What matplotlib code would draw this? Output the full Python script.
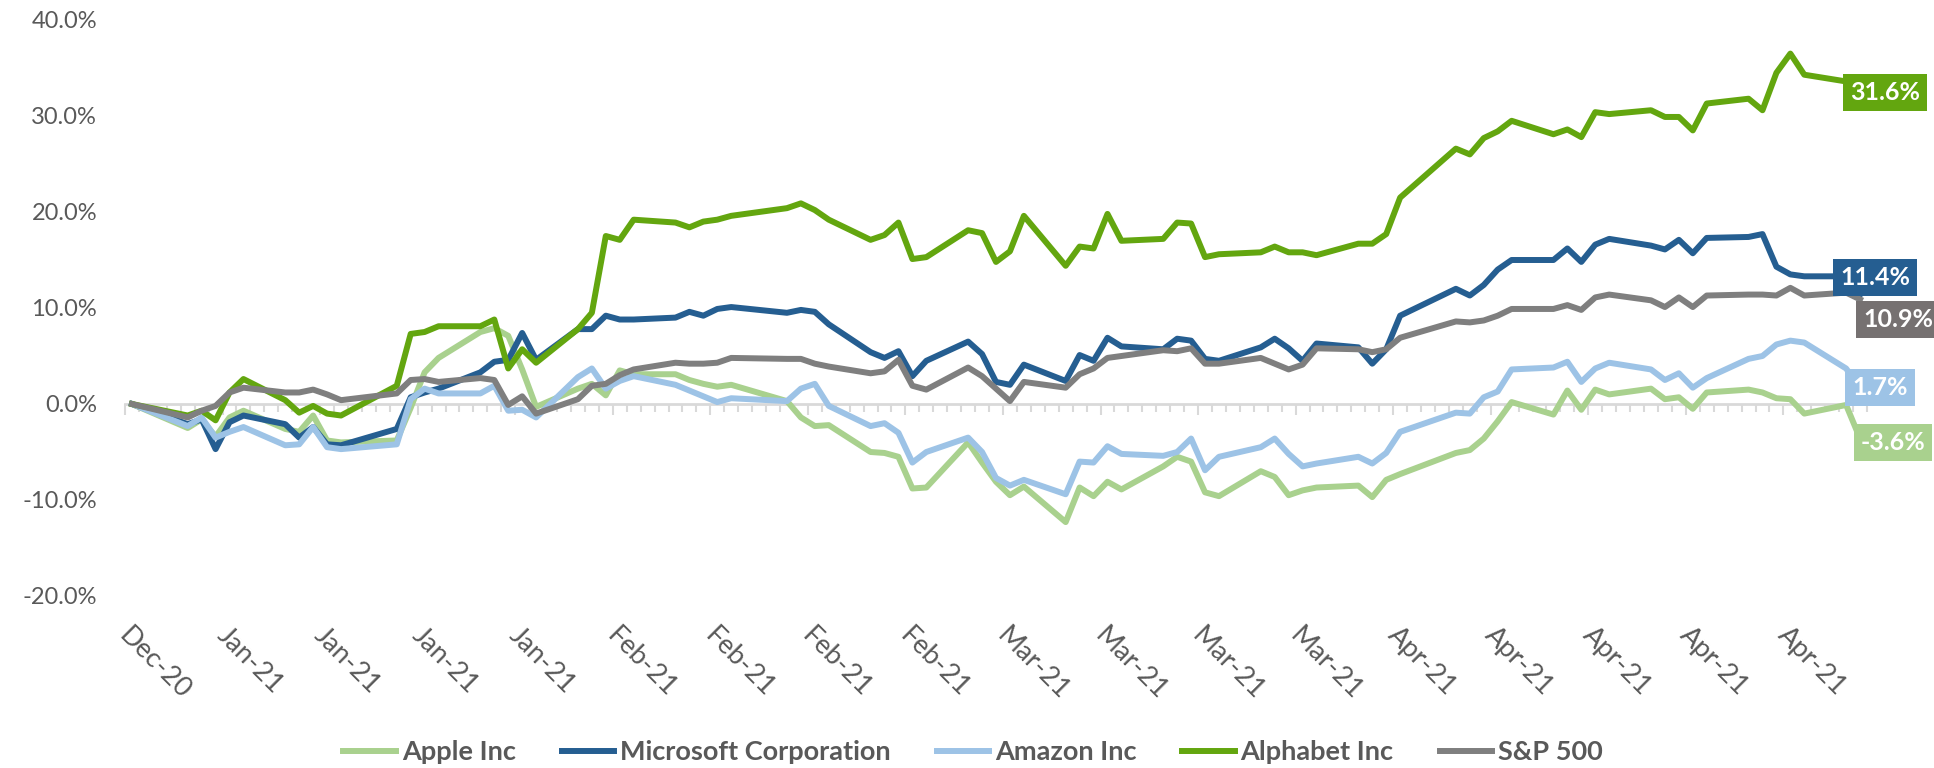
import numpy as np
import pandas as pd
import matplotlib
matplotlib.use('Agg')
import matplotlib.pyplot as plt

plt.rcParams['font.family'] = ['Lato', 'DejaVu Sans']

# trading days, Dec 31 2020 -> May 4 2021 (US market holidays removed)
holidays = ['2021-01-01', '2021-01-18', '2021-02-15', '2021-04-02']
dates = pd.bdate_range('2020-12-31', '2021-05-04').drop(pd.to_datetime(holidays))

# cumulative return since Dec 31, in %  (one row per week)
apple = [0.0,
         -2.5, -1.6, -3.4, -1.4, -0.7,
         -2.6, -2.9, -1.2, -3.8, -4.0,
         -3.8, -0.4, 3.3, 4.8,
         7.5, 7.9, 7.1, 3.6, -0.3,
         1.6, 2.1, 0.9, 3.5, 3.1,
         3.1, 2.5, 2.1, 1.8, 2.0,
         0.3, -1.4, -2.3, -2.2,
         -5.0, -5.1, -5.5, -8.8, -8.7,
         -4.0, -6.1, -8.1, -9.5, -8.6,
         -12.3, -8.7, -9.6, -8.1, -8.9,
         -6.5, -5.5, -6.0, -9.2, -9.6,
         -7.0, -7.6, -9.5, -9.0, -8.7,
         -8.5, -9.7, -7.9, -7.3,
         -5.1, -4.8, -3.6, -1.8, 0.2,
         -1.1, 1.4, -0.6, 1.5, 1.0,
         1.6, 0.5, 0.7, -0.5, 1.2,
         1.5, 1.2, 0.6, 0.5, -1.0,
         -0.1, -3.6]

microsoft = [0.0,
             -2.1, -1.6, -4.7, -1.9, -1.2,
             -2.1, -3.5, -2.4, -4.2, -4.3,
             -2.6, 0.7, 1.2, 1.6,
             3.3, 4.4, 4.6, 7.4, 4.6,
             7.8, 7.8, 9.2, 8.8, 8.8,
             9.0, 9.6, 9.2, 9.9, 10.1,
             9.5, 9.8, 9.6, 8.3,
             5.4, 4.8, 5.5, 2.9, 4.5,
             6.5, 5.2, 2.3, 2.0, 4.1,
             2.4, 5.1, 4.5, 6.9, 6.0,
             5.7, 6.8, 6.6, 4.7, 4.5,
             5.9, 6.8, 5.8, 4.5, 6.3,
             5.9, 4.2, 5.7, 9.2,
             12.0, 11.3, 12.4, 14.0, 15.0,
             15.0, 16.2, 14.8, 16.6, 17.2,
             16.5, 16.1, 17.1, 15.7, 17.3,
             17.4, 17.7, 14.3, 13.5, 13.3,
             13.3, 11.4]

amazon = [0.0,
          -2.3, -1.4, -3.5, -2.9, -2.4,
          -4.3, -4.2, -2.4, -4.5, -4.7,
          -4.2, 0.5, 1.6, 1.1,
          1.1, 1.9, -0.7, -0.6, -1.4,
          2.8, 3.7, 1.6, 2.4, 2.9,
          2.0, 1.4, 0.8, 0.2, 0.6,
          0.3, 1.6, 2.1, -0.2,
          -2.3, -2.0, -3.0, -6.1, -5.0,
          -3.5, -5.0, -7.7, -8.5, -7.9,
          -9.4, -6.0, -6.1, -4.4, -5.2,
          -5.4, -5.0, -3.6, -6.9, -5.5,
          -4.5, -3.6, -5.2, -6.5, -6.2,
          -5.5, -6.2, -5.1, -2.9,
          -0.9, -1.0, 0.7, 1.3, 3.6,
          3.8, 4.4, 2.3, 3.7, 4.3,
          3.6, 2.5, 3.2, 1.7, 2.7,
          4.7, 5.0, 6.2, 6.6, 6.4,
          3.7, 1.7]

alphabet = [0.0,
            -1.2, -0.7, -1.7, 1.2, 2.6,
            0.4, -0.9, -0.2, -1.0, -1.2,
            1.9, 7.3, 7.5, 8.1,
            8.1, 8.8, 3.7, 5.7, 4.3,
            7.8, 9.5, 17.5, 17.1, 19.2,
            18.9, 18.4, 19.0, 19.2, 19.6,
            20.4, 20.9, 20.2, 19.2,
            17.1, 17.6, 18.9, 15.1, 15.3,
            18.1, 17.8, 14.8, 15.9, 19.6,
            14.4, 16.4, 16.2, 19.8, 17.0,
            17.2, 18.9, 18.8, 15.3, 15.6,
            15.8, 16.4, 15.8, 15.8, 15.5,
            16.7, 16.7, 17.7, 21.5,
            26.6, 26.0, 27.7, 28.4, 29.5,
            28.1, 28.6, 27.8, 30.4, 30.2,
            30.6, 29.9, 29.9, 28.5, 31.3,
            31.8, 30.6, 34.5, 36.5, 34.3,
            33.6, 31.6]

sp500 = [0.0,
         -1.4, -0.7, -0.2, 1.2, 1.7,
         1.2, 1.2, 1.5, 1.0, 0.4,
         1.1, 2.5, 2.6, 2.3,
         2.7, 2.5, -0.1, 0.8, -1.0,
         0.5, 1.9, 2.1, 3.0, 3.6,
         4.3, 4.2, 4.2, 4.3, 4.8,
         4.7, 4.7, 4.2, 3.9,
         3.2, 3.4, 4.6, 1.9, 1.5,
         3.8, 2.9, 1.6, 0.3, 2.3,
         1.7, 3.1, 3.7, 4.8, 5.0,
         5.6, 5.5, 5.8, 4.2, 4.2,
         4.8, 4.2, 3.6, 4.1, 5.8,
         5.7, 5.4, 5.7, 6.9,
         8.6, 8.5, 8.7, 9.2, 9.9,
         9.9, 10.3, 9.8, 11.1, 11.4,
         10.8, 10.1, 11.1, 10.1, 11.3,
         11.4, 11.4, 11.3, 12.1, 11.3,
         11.6, 10.9]

names = ['Apple Inc', 'Microsoft Corporation', 'Amazon Inc', 'Alphabet Inc', 'S&P 500']
series = [apple, microsoft, amazon, alphabet, sp500]
colors = ['#A9D18E', '#255E91', '#9DC3E6', '#63A60F', '#7F7F7F']
box_colors = ['#A9D18E', '#255E91', '#9DC3E6', '#63A60F', '#767171']
# where each end-of-period label box sits, relative to the last point (pixels)
label_offsets = [(33, -4), (15, 17), (20, 0), (25, 8), (38, -20)]

text_grey = '#595959'
axis_grey = '#D9D9D9'

days = np.asarray((dates - dates[0]).days)
label_dates = pd.date_range(dates[0], dates[-1], freq='7D')
label_days = np.asarray((label_dates - dates[0]).days)

fig = plt.figure(figsize=(19.34, 7.68), dpi=100)
ax = fig.add_axes([125 / 1934, 1 - 596 / 768, 1742 / 1934, 576 / 768])

for name, vals, col in zip(names, series, colors):
    ax.plot(days, vals, color=col, lw=4.3, label=name, clip_on=False)

ax.set_xlim(-0.5, days[-1] + 0.5)
ax.set_ylim(-20, 40)
yt = np.arange(-20, 41, 10)
ax.set_yticks(yt)
ax.set_yticklabels([f'{v:.1f}%' for v in yt])
ax.tick_params(axis='y', length=0, pad=20, labelsize=17, labelcolor=text_grey)

ax.set_xticks(label_days)
ax.set_xticklabels([d.strftime('%b-%y') for d in label_dates],
                   rotation=-45, ha='left', va='top', rotation_mode='anchor')
ax.tick_params(axis='x', length=0, pad=19, labelsize=19.5, labelcolor=text_grey)
for s in ax.spines.values():
    s.set_visible(False)

# horizontal axis line drawn at 0% with a tick between every day
zero = ax.secondary_xaxis(1 / 3)
zero.set_xticks(label_days - 0.5)
zero.set_xticks(np.arange(-0.5, days[-1] + 1, 1.0), minor=True)
zero.tick_params(which='both', labelbottom=False, labeltop=False,
                 color=axis_grey, width=1.5, direction='out')
zero.tick_params(which='major', length=8)
zero.tick_params(which='minor', length=6)
zero.spines['bottom'].set_color(axis_grey)
zero.spines['bottom'].set_linewidth(2)

for vals, bc, off in zip(series, box_colors, label_offsets):
    ax.annotate(f'{vals[-1]:.1f}%', xy=(days[-1], vals[-1]), xytext=off,
                textcoords='offset pixels', ha='center', va='center',
                color='white', fontsize=18, fontweight='bold',
                bbox=dict(boxstyle='square,pad=0.28', fc=bc, ec='none'),
                annotation_clip=False, zorder=5)

leg = fig.legend(loc='center', bbox_to_anchor=(973 / 1934, 1 - 752 / 768), ncol=5,
                 frameon=False, handlelength=1.95, handletextpad=0.2,
                 columnspacing=1.7, prop={'size': 19.5, 'weight': 'bold'})
for t in leg.get_texts():
    t.set_color(text_grey)

fig.savefig('out.png', dpi=100)
